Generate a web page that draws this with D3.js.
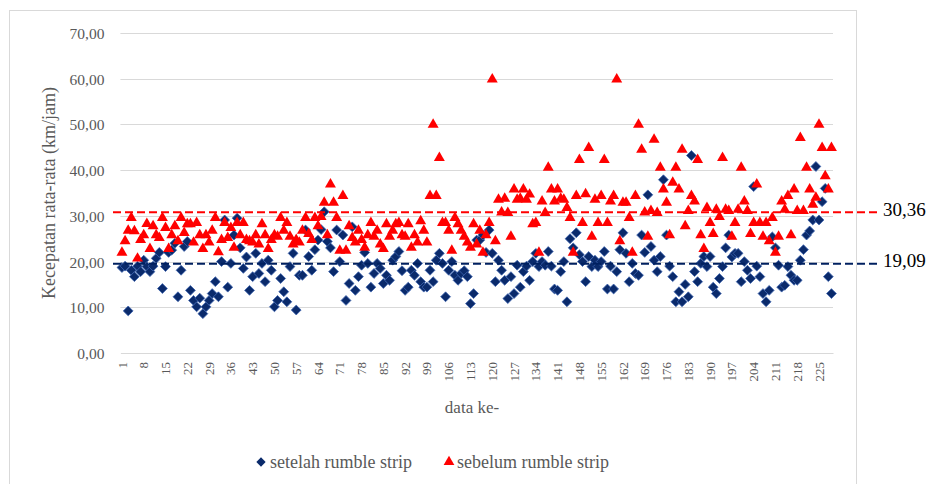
<!DOCTYPE html>
<html>
<head>
<meta charset="utf-8">
<script src="https://cdn.jsdelivr.net/npm/d3@7"></script>
<style>
  body { margin: 0; background: #fff; }
  text { font-family: "Liberation Serif", "Times New Roman", serif; }
</style>
</head>
<body>
<div id="chart"></div>
<script>
// kecepatan setelah rumble strip (biru)
var setelah = [
  18.7, 19, 9.2, 18.1, 16.7, 19, 17.8, 20.3, 18.9, 17.8,
  19, 20.7, 22, 14.1, 18.9, 22, 22.5, 24, 12.3, 18.1,
  23.3, 24.4, 13.7, 11.5, 10.1, 12, 8.6, 10.1, 11.5, 13,
  15.6, 12.3, 20, 29.1, 14.4, 19.6, 25.8, 29.5, 23, 18.5,
  21, 13.7, 16.7, 21.8, 17.4, 19.6, 15.6, 20.3, 18.1, 10.1,
  11.5, 16.3, 13.4, 11.2, 18.9, 21.8, 9.4, 17, 17, 26.9,
  21.1, 18.1, 22.6, 24.7, 27, 30.9, 24.4, 23, 17.8, 26.9,
  20, 25.8, 11.5, 15.2, 27.6, 13.7, 16.7, 19.2, 22, 19.6,
  14.4, 17.4, 19.6, 18.5, 15.2, 17, 15.9, 20.3, 21.1, 22.2,
  18, 13.7, 14.4, 18.1, 17, 19.6, 15.6, 14.4, 14.4, 18.1,
  15.6, 20.3, 21.8, 19.6, 12.3, 18.1, 20, 17, 15.9, 17.4,
  18, 16.7, 10.8, 13, 24.7, 24.7, 25.8, 22, 26.9, 21.8,
  15.6, 20.3, 18.1, 15.9, 11.9, 16.7, 13, 19.2, 14.4, 17.8,
  19, 15.9, 20, 21.8, 18.9, 20, 19.2, 22.2, 19, 14,
  13.7, 17.8, 20, 11.2, 25, 23, 26.3, 21.5, 20, 15.6,
  21.1, 18.9, 20.3, 18.9, 20, 22.2, 14, 19, 14, 17.8,
  22.6, 26.3, 21.8, 15.6, 19.6, 17.4, 17, 25.8, 22, 34.6,
  23.3, 20.3, 17.8, 21.1, 37.9, 25.8, 19, 16.7, 11.2, 13.4,
  11.2, 15, 12.3, 43.2, 17.8, 15.6, 19.6, 21.1, 18.9, 21.1,
  14.4, 13, 16.3, 18.9, 23, 25.8, 21, 21.8, 21.8, 15.6,
  20, 18.1, 16.3, 36.4, 19, 16.7, 13, 11.2, 13.7, 25.4,
  23, 19.2, 14.4, 14.8, 18.9, 17, 15.9, 15.9, 20.3, 22.6,
  25.8, 26.7, 29.1, 40.8, 29.1, 33.1, 36, 16.7, 13
];

// kecepatan sebelum rumble strip (merah)
var sebelum = [
  22.2, 24.7, 27, 29.8, 26.9, 20.9, 25, 26, 28.5, 23,
  28, 26, 25.4, 29.8, 27.6, 23, 26, 28, 24.7, 29.8,
  26.5, 28.4, 28.4, 24.4, 28.7, 26, 23, 26, 24.4, 27,
  29.8, 22.3, 25, 28.7, 25.4, 27.6, 23.3, 28.7, 26, 28.7,
  25, 24.7, 24.4, 26, 24, 28.4, 26, 23, 25, 26,
  25.7, 29.8, 27, 28.7, 25.7, 24, 25, 24.4, 27, 29.8,
  26.3, 25, 29.8, 28, 30, 33.1, 26, 37.1, 33.1, 29.8,
  22.6, 34.6, 22.6, 28, 25.4, 24.4, 27, 25, 23.3, 26,
  28.7, 25.7, 27, 24, 23, 28.4, 25.7, 27, 28.4, 28.7,
  26, 25.7, 28.4, 23.3, 26, 24.4, 29.1, 27, 24.4, 34.6,
  50.2, 34.6, 42.9, 28.7, 28.7, 27, 22.6, 29.8, 28.4, 27,
  25.7, 24.4, 23.3, 28.4, 24, 27, 22.2, 26, 28.7, 60.1,
  24.7, 33.8, 31, 34, 30.9, 25.7, 36, 33.8, 34, 36,
  33.8, 34.9, 28.4, 28.7, 22.2, 33.4, 30.9, 40.8, 36, 33.4,
  36, 34, 33.8, 32, 29.8, 22.2, 34.6, 42.5, 28.7, 35,
  45.1, 25.7, 33.8, 28.7, 34.6, 42.5, 28.7, 33.4, 34.6, 60.1,
  24.7, 33.1, 33.1, 29.8, 22.2, 34.6, 50.2, 44.7, 31, 25.7,
  31.3, 46.9, 30.9, 40.8, 36, 33.1, 26, 37.5, 40.8, 36,
  44.7, 28, 31.3, 34.6, 33.4, 42.5, 26, 23, 32, 28.7,
  26.3, 31.6, 30, 42.9, 31.6, 31.3, 25.7, 28.7, 31.6, 40.8,
  33.4, 31.3, 26.3, 28.7, 37.1, 28.7, 25.7, 28.7, 24.7, 29.8,
  22.2, 25.7, 33.4, 31.6, 34.6, 26, 36, 31.3, 47.3, 31.3,
  40.8, 36, 32.7, 34.2, 50.2, 45.1, 38.9, 36, 45.1
];

var yTicks = [0, 10, 20, 30, 40, 50, 60, 70];
var rataSebelum = 30.36,
    rataSetelah = 19.09;
var legendNames = ["setelah rumble strip", "sebelum rumble strip"];

var width = 932,
    height = 484;

var plot = {left: 120.4, right: 833, top: 33, bottom: 353};

var dataKe = d3.range(1, setelah.length + 1);

var x = d3.scaleBand().domain(dataKe).range([plot.left, plot.right]),
    y = d3.scaleLinear().domain([0, 70]).range([plot.bottom, plot.top]);

var biru = "#0a2a6b",
    merah = "#ff0000";

var svg = d3.select("#chart").append("svg")
    .attr("width", width)
    .attr("height", height);

// bingkai chart
svg.append("rect")
    .attr("x", 9.5)
    .attr("y", 10.5)
    .attr("width", 847)
    .attr("height", height + 2)
    .attr("fill", "none")
    .attr("stroke", "#d9d9d9");

// gridlines
svg.append("g")
    .selectAll("line")
    .data(yTicks.slice(1))
    .enter().append("line")
    .attr("x1", plot.left)
    .attr("x2", plot.right)
    .attr("y1", function (d) { return Math.round(y(d)) + 0.5; })
    .attr("y2", function (d) { return Math.round(y(d)) + 0.5; })
    .attr("stroke", "#d9d9d9")
    .attr("stroke-width", 1);

// sumbu y (label saja)
var yAxis = svg.append("g")
    .attr("transform", "translate(" + (plot.left - 13) + ",0)")
    .call(d3.axisLeft(y).tickValues(yTicks).tickSize(0)
        .tickFormat(function (d) { return d3.format(".2f")(d).replace(".", ","); }));
yAxis.select(".domain").remove();
yAxis.selectAll("text")
    .attr("dy", "0.35em")
    .style("font-family", "'Liberation Serif', serif")
    .style("font-size", "15.5px")
    .attr("fill", "#595959");

// sumbu x
var xAxis = svg.append("g")
    .attr("transform", "translate(0," + plot.bottom + ")")
    .call(d3.axisBottom(x)
        .tickValues(dataKe.filter(function (d) { return (d - 1) % 7 === 0; }))
        .tickSize(0));
xAxis.select(".domain")
    .attr("stroke", "#d9d9d9");
xAxis.selectAll("text")
    .attr("transform", "rotate(-90)")
    .attr("x", -9)
    .attr("y", 0)
    .attr("dy", "0.35em")
    .attr("text-anchor", "end")
    .style("font-family", "'Liberation Serif', serif")
    .style("font-size", "13px")
    .attr("fill", "#595959");

// judul sumbu
svg.append("text")
    .attr("transform", "translate(49," + 193 + ")rotate(-90)")
    .attr("text-anchor", "middle")
    .attr("dy", "0.35em")
    .style("font-size", "18px")
    .attr("fill", "#595959")
    .text("Kecepatan rata-rata (km/jam)");

svg.append("text")
    .attr("x", 472)
    .attr("y", 413)
    .attr("text-anchor", "middle")
    .style("font-size", "17px")
    .attr("fill", "#595959")
    .text("data ke-");

var diamond = d3.symbol().type(d3.symbolDiamond2).size(62),
    triangle = d3.symbol().type(d3.symbolTriangle).size(52);

// titik setelah
svg.append("g")
    .selectAll("path")
    .data(setelah)
    .enter().append("path")
    .attr("d", diamond)
    .attr("transform", function (d, i) {
        return "translate(" + (x(dataKe[i]) + x.bandwidth() / 2) + "," + y(d) + ")";
    })
    .attr("fill", biru)
    .attr("stroke", "#3e64b0")
    .attr("stroke-width", 0.8);

// titik sebelum
svg.append("g")
    .selectAll("path")
    .data(sebelum)
    .enter().append("path")
    .attr("d", triangle)
    .attr("transform", function (d, i) {
        return "translate(" + (x(dataKe[i]) + x.bandwidth() / 2) + "," + (y(d) + 1) + ")";
    })
    .attr("fill", merah);

// garis rata-rata
var rata = [
    {v: rataSebelum, warna: merah},
    {v: rataSetelah, warna: "#002060"}
];

svg.append("g")
    .selectAll("line")
    .data(rata)
    .enter().append("line")
    .attr("x1", 113)
    .attr("x2", 878)
    .attr("y1", function (d) { return y(d.v) - 2; })
    .attr("y2", function (d) { return y(d.v) - 2; })
    .attr("stroke", function (d) { return d.warna; })
    .attr("stroke-width", 2)
    .attr("stroke-dasharray", "8,4");

svg.append("g")
    .selectAll("text")
    .data(rata)
    .enter().append("text")
    .attr("x", 883)
    .attr("y", function (d) { return y(d.v) - 5; })
    .attr("dy", "0.35em")
    .style("font-size", "19px")
    .attr("fill", "#000")
    .text(function (d) { return d3.format(".2f")(d.v).replace(".", ","); });

// legenda
var legend = svg.append("g").attr("transform", "translate(261,462)");

legend.append("path")
    .attr("d", d3.symbol().type(d3.symbolDiamond2).size(55))
    .attr("fill", biru);
legend.append("text")
    .attr("x", 9)
    .attr("dy", "0.35em")
    .style("font-size", "18px")
    .attr("fill", "#595959")
    .text(legendNames[0]);

legend.append("path")
    .attr("transform", "translate(188,0)")
    .attr("d", d3.symbol().type(d3.symbolTriangle).size(50))
    .attr("fill", merah);
legend.append("text")
    .attr("x", 196)
    .attr("dy", "0.35em")
    .style("font-size", "18px")
    .attr("fill", "#595959")
    .text(legendNames[1]);
</script>
</body>
</html>
